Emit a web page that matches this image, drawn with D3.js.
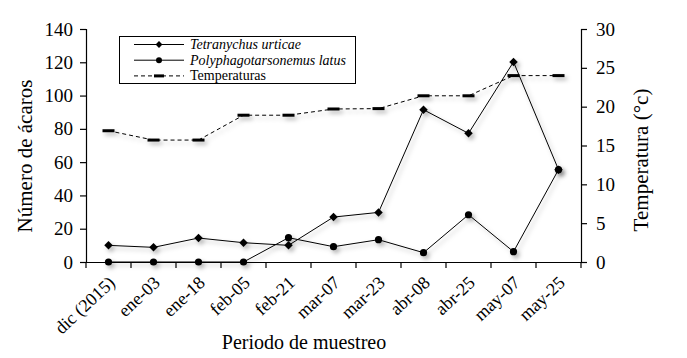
<!DOCTYPE html>
<html><head><meta charset="utf-8">
<script src="https://cdn.jsdelivr.net/npm/d3@7"></script>
<style>body{margin:0;background:#fff}svg{display:block}</style>
</head><body>
<script>
const categories = ["dic (2015)","ene-03","ene-18","feb-05","feb-21","mar-07","mar-23","abr-08","abr-25","may-07","may-25"];
const tetranychus = [10, 8.8, 14.4, 11.6, 10, 27, 29.8, 91.5, 77.3, 120.2, 55.5];
const polyphago = [0, 0, 0, 0, 14.6, 9.2, 13.4, 5.6, 28.4, 6.2, 55.5];
const temperaturas = [16.9, 15.7, 15.7, 18.9, 18.9, 19.7, 19.75, 21.4, 21.4, 24.0, 24.0];
const leftTicks = [0,20,40,60,80,100,120,140];
const rightTicks = [0,5,10,15,20,25,30];

const FONT='"Liberation Serif", "Times New Roman", serif';
const W=687,H=358;
const m={l:86,r:106,t:29,b:96};
const svg=d3.select("body").append("svg").attr("width",W).attr("height",H);
const defs=svg.append("defs");
const f=defs.append("filter").attr("id","sh").attr("x","-20%").attr("y","-20%").attr("width","150%").attr("height","150%");
f.append("feDropShadow").attr("dx",2.5).attr("dy",3).attr("stdDeviation",2).attr("flood-color","#000").attr("flood-opacity",0.3);

const x=d3.scaleBand().domain(categories).range([m.l,W-m.r]);
const yL=d3.scaleLinear().domain([0,140]).range([H-m.b,m.t]);
const yR=d3.scaleLinear().domain([0,30]).range([H-m.b,m.t]);
const cx=d=>x(d)+x.bandwidth()/2;

// axes
const axL=svg.append("g").attr("transform",`translate(${m.l},0)`).call(d3.axisLeft(yL).tickValues(leftTicks).tickSize(6).tickPadding(7));
const axR=svg.append("g").attr("transform",`translate(${W-m.r},0)`).call(d3.axisRight(yR).tickValues(rightTicks).tickSize(6).tickPadding(9));
const axB=svg.append("g").attr("transform",`translate(0,${H-m.b})`).call(d3.axisBottom(x).tickSize(0).tickFormat(""));
[axL,axR].forEach(a=>{a.attr("font-family",null).attr("font-size",null);a.selectAll("text").attr("fill","#000").style("font-size","19px").style("font-family",FONT);a.selectAll("line,path").attr("stroke","#000").attr("stroke-width",1.2);});
axB.attr("font-family",null).attr("font-size",null);
axB.select("path").attr("stroke","#000").attr("stroke-width",1.2);
const bounds=categories.map(c=>x(c)).concat([x(categories[categories.length-1])+x.bandwidth()]);
axB.selectAll("line.b").data(bounds).enter().append("line").attr("x1",d=>d).attr("x2",d=>d).attr("y1",0).attr("y2",6).attr("stroke","#000").attr("stroke-width",1.2);
axB.selectAll("text.c").data(categories).enter().append("text").attr("class","c")
  .attr("transform",d=>`translate(${cx(d)-1},${13}) rotate(-43)`)
  .attr("text-anchor","end").attr("dy","0.7em").attr("fill","#000").style("font-size","18px").style("font-family",FONT).text(d=>d);

// temperature
const gT=svg.append("g").attr("filter","url(#sh)");
gT.append("path").datum(temperaturas).attr("fill","none").attr("stroke","#000").attr("stroke-width",1).attr("stroke-dasharray","4,3")
  .attr("d",d3.line().x((d,i)=>cx(categories[i])).y(d=>yR(d)));
gT.selectAll("rect").data(temperaturas).enter().append("rect")
  .attr("x",(d,i)=>cx(categories[i])-6).attr("y",d=>yR(d)-1.5).attr("width",12).attr("height",3).attr("fill","#000");

// series
const line=d3.line().x((d,i)=>cx(categories[i])).y(d=>yL(d));
const gP=svg.append("g").attr("filter","url(#sh)");
gP.append("path").datum(polyphago).attr("fill","none").attr("stroke","#000").attr("stroke-width",1).attr("d",line);
gP.selectAll("circle").data(polyphago).enter().append("circle").attr("cx",(d,i)=>cx(categories[i])).attr("cy",d=>yL(d)).attr("r",3.6).attr("fill","#000");
const gD=svg.append("g").attr("filter","url(#sh)");
gD.append("path").datum(tetranychus).attr("fill","none").attr("stroke","#000").attr("stroke-width",1).attr("d",line);
gD.selectAll("path.d").data(tetranychus).enter().append("path").attr("class","d")
  .attr("d",d3.symbol(d3.symbolDiamond2,46)()).attr("transform",(d,i)=>`translate(${cx(categories[i])},${yL(d)})`).attr("fill","#000");

// legend
const lg=svg.append("g");
lg.append("rect").attr("x",119.5).attr("y",36.5).attr("width",236).attr("height",47).attr("fill","#fff").attr("stroke","#000").attr("stroke-width",1);
const items=[{t:"Tetranychus urticae",k:"d",it:true},{t:"Polyphagotarsonemus latus",k:"c",it:true},{t:"Temperaturas",k:"t",it:false}];
items.forEach((it,i)=>{
  const yy=44.5+i*15.7;
  lg.append("line").attr("x1",134).attr("x2",184).attr("y1",yy).attr("y2",yy).attr("stroke","#000").attr("stroke-width",1).attr("stroke-dasharray",it.k==="t"?"4,3":null);
  if(it.k==="d") lg.append("path").attr("d",d3.symbol(d3.symbolDiamond2,30)()).attr("transform",`translate(159,${yy})`);
  if(it.k==="c") lg.append("circle").attr("cx",159).attr("cy",yy).attr("r",3);
  if(it.k==="t") lg.append("rect").attr("x",154).attr("y",yy-1.5).attr("width",10).attr("height",3);
  lg.append("text").attr("x",190).attr("y",yy+4.5).attr("fill","#000").style("font-family",FONT).style("font-size","14px").style("font-style",it.it?"italic":"normal").text(it.t);
});

// titles
svg.append("text").attr("transform",`translate(32,156) rotate(-90)`).attr("text-anchor","middle").style("font-family",FONT).style("font-size","21px").text("Número de ácaros");
svg.append("text").attr("transform",`translate(648,160) rotate(-90)`).attr("text-anchor","middle").style("font-family",FONT).style("font-size","21px").text("Temperatura (°c)");
svg.append("text").attr("x",304).attr("y",349).attr("text-anchor","middle").style("font-family",FONT).style("font-size","20px").text("Periodo de muestreo");
</script>
</body></html>
